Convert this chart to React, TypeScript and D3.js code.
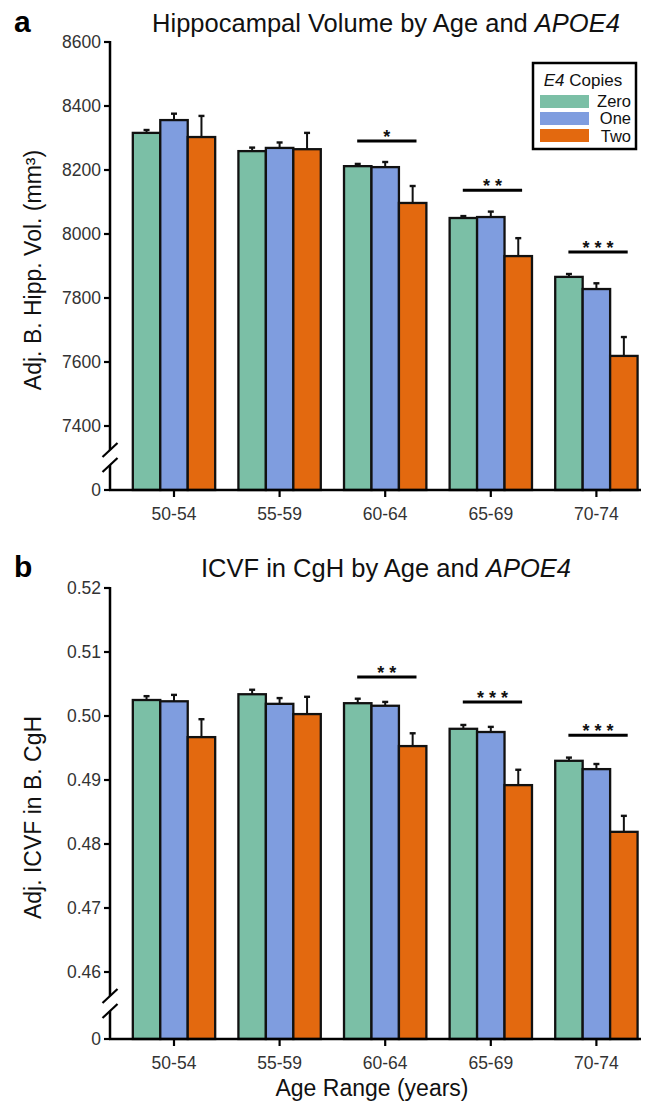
import React from "react";
import * as d3 from "d3";

const categories = ["50-54", "55-59", "60-64", "65-69", "70-74"];
const seriesNames = ["Zero", "One", "Two"];
const seriesColors = ["#7bbfa6", "#7f9ddf", "#e3690f"];

const hippZero = [8316, 8259, 8212, 8050, 7866];
const hippOne = [8356, 8269, 8209, 8053, 7828];
const hippTwo = [8303, 8265, 8097, 7931, 7619];
const hippZeroErr = [9, 11, 7, 6, 9];
const hippOneErr = [20, 17, 16, 17, 18];
const hippTwoErr = [66, 51, 53, 56, 59];
const hippTicks = [7400, 7600, 7800, 8000, 8200, 8400, 8600];
const hippSigCats = ["60-64", "65-69", "70-74"];
const hippSigLevels = [8291, 8137, 7944];
const hippSigStars = ["*", "* *", "* * *"];

const icvfZero = [0.5025, 0.5034, 0.502, 0.498, 0.493];
const icvfOne = [0.5023, 0.5019, 0.5016, 0.4975, 0.4917];
const icvfTwo = [0.4967, 0.5003, 0.4953, 0.4892, 0.4819];
const icvfZeroErr = [0.0006, 0.0007, 0.0007, 0.0006, 0.0005];
const icvfOneErr = [0.001, 0.0009, 0.0006, 0.0008, 0.0008];
const icvfTwoErr = [0.0028, 0.0027, 0.002, 0.0024, 0.0025];
const icvfTicks = [0.46, 0.47, 0.48, 0.49, 0.5, 0.51, 0.52];
const icvfSigCats = ["60-64", "65-69", "70-74"];
const icvfSigLevels = [0.5061, 0.5022, 0.497];
const icvfSigStars = ["* *", "* * *", "* * *"];

const FONT = "'Liberation Sans', Arial, Helvetica, sans-serif";

type PanelProps = {
  letter: string;
  titleMain: string;
  yLabel: string;
  means: number[][];
  errs: number[][];
  ticks: number[];
  fmt: (v: number) => string;
  sigCats: string[];
  sigLevels: number[];
  sigStars: string[];
  top: number;
  bottomTick: number;
  baseline: number;
  titleY: number;
  showLegend: boolean;
  xLabel?: string;
};

function Panel(p: PanelProps) {
  const axisX = 110;
  const x = d3
    .scaleBand<string>()
    .domain(categories)
    .range([121.2, 649.2])
    .paddingInner(0.22)
    .paddingOuter(0.11);
  const xi = d3.scaleBand<string>().domain(seriesNames).range([0, x.bandwidth()]);
  const y = d3
    .scaleLinear()
    .domain([p.ticks[0], p.ticks[p.ticks.length - 1]])
    .range([p.bottomTick, p.top]);
  const brk1 = p.bottomTick + 24;
  const brk2 = p.bottomTick + 39;
  const capW = 6;

  return (
    <g>
      <text x={14} y={p.titleY} fontSize={30} fontWeight="bold" fontFamily={FONT} fill="#000">
        {p.letter}
      </text>
      <text x={386} y={p.titleY} fontSize={25.5} fontFamily={FONT} textAnchor="middle" fill="#111">
        {p.titleMain}
        <tspan fontStyle="italic">APOE4</tspan>
      </text>
      <text
        transform={`translate(${41},${(p.top + p.baseline) / 2 + 4}) rotate(-90)`}
        fontSize={23}
        fontFamily={FONT}
        textAnchor="middle"
        fill="#111"
      >
        {p.yLabel}
      </text>
      {categories.map((c, ci) => (
        <g key={c} transform={`translate(${x(c)},0)`}>
          {seriesNames.map((s, si) => {
            const v = p.means[si][ci];
            const e = p.errs[si][ci];
            const bx = xi(s)!;
            const bw = xi.bandwidth();
            const cx = bx + bw / 2;
            return (
              <g key={s}>
                <line x1={cx} x2={cx} y1={y(v)} y2={y(v + e)} stroke="#111" strokeWidth={2} />
                <line x1={cx - capW / 2} x2={cx + capW / 2} y1={y(v + e)} y2={y(v + e)} stroke="#111" strokeWidth={2.4} />
                <rect
                  x={bx}
                  y={y(v)}
                  width={bw}
                  height={p.baseline - y(v)}
                  fill={seriesColors[si]}
                  stroke="#111"
                  strokeWidth={2.3}
                />
              </g>
            );
          })}
        </g>
      ))}
      {p.sigCats.map((c, i) => {
        const x0 = x(c)!;
        const bw = x.bandwidth();
        const ly = y(p.sigLevels[i]);
        return (
          <g key={c}>
            <line x1={x0 + bw * 0.16} x2={x0 + bw * 0.88} y1={ly} y2={ly} stroke="#000" strokeWidth={3} />
            <text x={x0 + bw * 0.52} y={ly + 2} fontSize={18} fontWeight="bold" fontFamily={FONT} textAnchor="middle" fill="#111">
              {p.sigStars[i]}
            </text>
          </g>
        );
      })}
      <line x1={axisX} x2={axisX} y1={p.top - 1} y2={brk1} stroke="#000" strokeWidth={2.5} />
      <line x1={axisX} x2={axisX} y1={brk2} y2={p.baseline} stroke="#000" strokeWidth={2.5} />
      <line x1={axisX - 7.5} x2={axisX + 7.5} y1={brk1 + 7} y2={brk1 - 7} stroke="#000" strokeWidth={2.2} />
      <line x1={axisX - 7.5} x2={axisX + 7.5} y1={brk2 + 7} y2={brk2 - 7} stroke="#000" strokeWidth={2.2} />
      {p.ticks.map((t) => (
        <g key={t}>
          <line x1={axisX - 6} x2={axisX} y1={y(t)} y2={y(t)} stroke="#000" strokeWidth={2.2} />
          <text x={axisX - 9} y={y(t) + 6} fontSize={17.5} fontFamily={FONT} textAnchor="end" fill="#333">
            {p.fmt(t)}
          </text>
        </g>
      ))}
      <line x1={axisX - 6} x2={axisX} y1={p.baseline} y2={p.baseline} stroke="#000" strokeWidth={2.2} />
      <text x={axisX - 9} y={p.baseline + 6} fontSize={17.5} fontFamily={FONT} textAnchor="end" fill="#333">
        0
      </text>
      <line x1={axisX - 1} x2={641} y1={p.baseline} y2={p.baseline} stroke="#000" strokeWidth={2.5} />
      {categories.map((c) => {
        const cx = x(c)! + x.bandwidth() / 2;
        return (
          <g key={c}>
            <line x1={cx} x2={cx} y1={p.baseline} y2={p.baseline + 7} stroke="#000" strokeWidth={2.2} />
            <text x={cx} y={p.baseline + 30} fontSize={17.5} fontFamily={FONT} textAnchor="middle" fill="#333">
              {c}
            </text>
          </g>
        );
      })}
      {p.xLabel && (
        <text x={372} y={p.baseline + 57} fontSize={23} fontFamily={FONT} textAnchor="middle" fill="#111">
          {p.xLabel}
        </text>
      )}
      {p.showLegend && (
        <g>
          <rect x={533} y={63} width={103} height={86} fill="#fff" stroke="#000" strokeWidth={2.5} />
          <text x={583} y={86} fontSize={17} fontFamily={FONT} textAnchor="middle" fill="#111">
            <tspan fontStyle="italic">E4</tspan> Copies
          </text>
          {seriesNames.map((s, i) => (
            <g key={s}>
              <rect x={540} y={95 + i * 17} width={49} height={13} fill={seriesColors[i]} />
              <text x={631} y={106.5 + i * 17.5} fontSize={16.5} fontFamily={FONT} textAnchor="end" fill="#111">
                {s}
              </text>
            </g>
          ))}
        </g>
      )}
    </g>
  );
}

export default function App() {
  return (
    <svg width={654} height={1107} style={{ display: "block", position: "absolute", left: 0, top: 0, background: "#fff" }}>
      <rect width={654} height={1107} fill="#fff" />
      <Panel
        letter="a"
        titleMain="Hippocampal Volume by Age and "
        yLabel="Adj. B. Hipp. Vol. (mm³)"
        means={[hippZero, hippOne, hippTwo]}
        errs={[hippZeroErr, hippOneErr, hippTwoErr]}
        ticks={hippTicks}
        fmt={(v) => d3.format("d")(v)}
        sigCats={hippSigCats}
        sigLevels={hippSigLevels}
        sigStars={hippSigStars}
        top={42}
        bottomTick={426}
        baseline={490}
        titleY={32}
        showLegend={true}
      />
      <Panel
        letter="b"
        titleMain="ICVF in CgH by Age and "
        yLabel="Adj. ICVF in B. CgH"
        means={[icvfZero, icvfOne, icvfTwo]}
        errs={[icvfZeroErr, icvfOneErr, icvfTwoErr]}
        ticks={icvfTicks}
        fmt={(v) => d3.format(".2f")(v)}
        sigCats={icvfSigCats}
        sigLevels={icvfSigLevels}
        sigStars={icvfSigStars}
        top={588}
        bottomTick={972}
        baseline={1039}
        titleY={577}
        showLegend={false}
        xLabel="Age Range (years)"
      />
    </svg>
  );
}
